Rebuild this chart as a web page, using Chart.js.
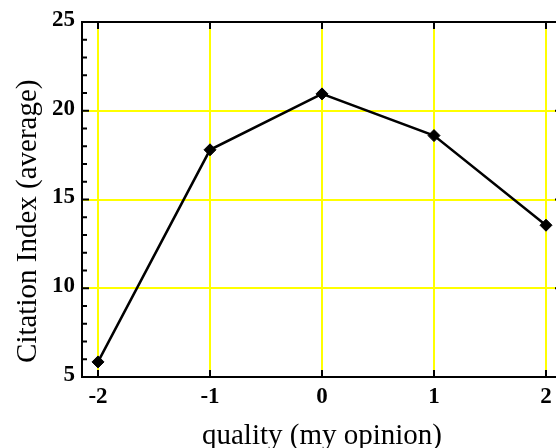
<!DOCTYPE html>
<html>
<head>
<meta charset="utf-8">
<script src="https://cdn.jsdelivr.net/npm/chart.js@4.4.1/dist/chart.umd.min.js"></script>
<style>
  html, body { margin: 0; padding: 0; background: #fff; overflow: hidden; }
  #wrap { width: 562px; height: 448px; }
</style>
</head>
<body>
<div id="wrap"><canvas id="grafico" width="562" height="448"></canvas></div>
<script>
// valores
const qualidade = [-2, -1, 0, 1, 2];
const citacoes = [5.85, 17.8, 20.95, 18.6, 13.55];
const xTicks = [-2, -1, 0, 1, 2];
const yTicks = [5, 10, 15, 20, 25];

const serif = "'Liberation Serif', 'Times New Roman', serif";

// moldura preta com tiquinhos pra dentro
const moldura = {
  id: "moldura",
  beforeDatasetsDraw(chart) {
    const { ctx, chartArea: a, scales } = chart;
    const x = scales.x, y = scales.y;
    ctx.save();
    ctx.strokeStyle = "#000";
    ctx.lineWidth = 2;
    ctx.beginPath();
    xTicks.forEach((v) => {
      const px = x.getPixelForValue(v);
      ctx.moveTo(px, a.bottom); ctx.lineTo(px, a.bottom - 7);
      ctx.moveTo(px, a.top); ctx.lineTo(px, a.top + 7);
    });
    for (let v = y.min; v <= y.max; v++) {
      const len = yTicks.includes(v) ? 7 : 5;
      const py = y.getPixelForValue(v);
      ctx.moveTo(a.left, py); ctx.lineTo(a.left + len, py);
      ctx.moveTo(a.right, py); ctx.lineTo(a.right - len, py);
    }
    ctx.stroke();
    ctx.strokeRect(a.left, a.top, a.right - a.left, a.bottom - a.top);
    ctx.restore();
  },
};

new Chart(document.getElementById("grafico"), {
  type: "line",
  data: {
    datasets: [{
      data: qualidade.map((q, i) => ({ x: q, y: citacoes[i] })),
      borderColor: "#000",
      borderWidth: 2.5,
      backgroundColor: "#000",
      pointStyle: "rectRot",
      pointRadius: 6,
      pointBorderWidth: 1,
      tension: 0,
    }],
  },
  options: {
    responsive: false,
    animation: false,
    devicePixelRatio: 1,
    layout: { padding: { top: 22, left: 0, right: 0, bottom: 0 }, autoPadding: false },
    plugins: { legend: { display: false }, tooltip: { enabled: false } },
    scales: {
      x: {
        type: "linear",
        min: -2.1429,
        max: 2.1429,
        afterBuildTicks: (s) => { s.ticks = xTicks.map((v) => ({ value: v })); },
        afterFit: (s) => { s.height = 71; },
        grid: { color: "#ffff00", lineWidth: 2, drawTicks: false },
        border: { display: false },
        ticks: { color: "#000", padding: 6, font: { family: serif, size: 23, weight: "bold" } },
        title: {
          display: true,
          text: "quality (my opinion)",
          color: "#000",
          padding: { top: 0, bottom: 0 },
          font: { family: serif, size: 29, lineHeight: 0.8 },
        },
      },
      y: {
        min: 5,
        max: 25,
        afterBuildTicks: (s) => { s.ticks = yTicks.map((v) => ({ value: v })); },
        afterFit: (s) => { s.width = 82; },
        grid: { color: "#ffff00", lineWidth: 2, drawTicks: false },
        border: { display: false },
        ticks: { color: "#000", padding: 7, labelOffset: -2, font: { family: serif, size: 23, weight: "bold" } },
        title: {
          display: true,
          // espaços no fim empurram o texto pra baixo, como no original
          text: "Citation Index (average)      ",
          color: "#000",
          padding: { top: 11, bottom: 0 },
          font: { family: serif, size: 29 },
        },
      },
    },
  },
  plugins: [moldura],
});
</script>
</body>
</html>
